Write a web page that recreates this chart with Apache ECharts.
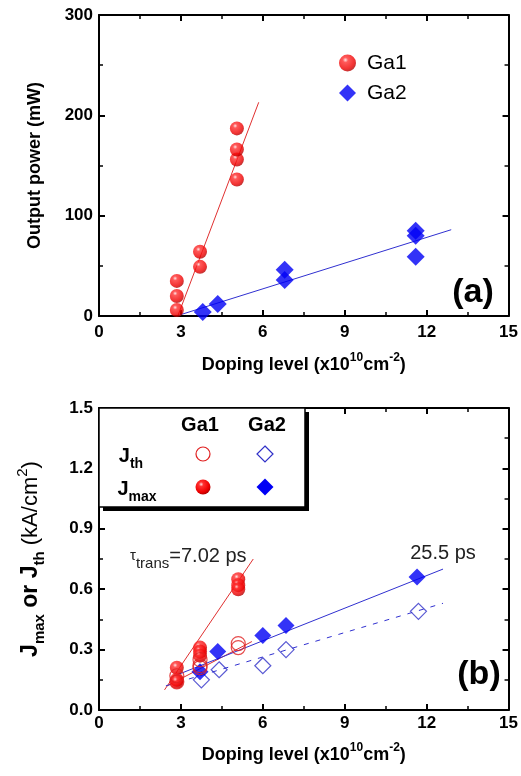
<!DOCTYPE html>
<html>
<head>
<meta charset="utf-8">
<script src="https://cdn.jsdelivr.net/npm/echarts@6/dist/echarts.min.js"></script>
<style>
  html, body { margin: 0; padding: 0; background: #fff; }
  #chart { width: 521px; height: 776px; }
</style>
</head>
<body>
<div id="chart"></div>
<script>
// (a) output power
const ga1X = [2.85, 2.85, 2.85, 3.7, 3.7, 5.05, 5.05, 5.05, 5.05]
const ga1Power = [6, 20, 35, 49, 64, 136, 156, 166, 187]
const ga2X = [3.8, 4.35, 6.8, 6.8, 11.6, 11.6, 11.6]
const ga2Power = [4, 12, 36, 46, 59, 80, 85]
const ga1FitX = [2.9, 5.85]
const ga1FitPower = [1, 213]
const ga2FitX = [2.95, 12.9]
const ga2FitPower = [1, 86]

// (b) current densities
const jmaxGa1X = [2.85, 2.85, 2.85, 3.7, 3.7, 3.7, 5.1, 5.1, 5.1]
const jmaxGa1 = [0.21, 0.15, 0.14, 0.31, 0.29, 0.27, 0.65, 0.62, 0.60]
const jthGa1X = [2.85, 2.85, 3.7, 3.7, 3.7, 5.1, 5.1]
const jthGa1 = [0.17, 0.14, 0.25, 0.22, 0.21, 0.33, 0.31]
const jmaxGa2X = [3.7, 4.35, 6.0, 6.85, 11.65]
const jmaxGa2 = [0.19, 0.29, 0.37, 0.42, 0.66]
const jthGa2X = [3.75, 4.4, 6.0, 6.85, 11.7]
const jthGa2 = [0.15, 0.20, 0.22, 0.30, 0.49]
const jmaxGa1FitX = [2.4, 5.65]
const jmaxGa1Fit = [0.10, 0.75]
const jthGa1FitX = [2.5, 5.6]
const jthGa1Fit = [0.12, 0.34]
const jmaxGa2FitX = [2.78, 12.6]
const jmaxGa2Fit = [0.17, 0.70]
const jthGa2FitX = [2.45, 12.6]
const jthGa2Fit = [0.12, 0.53]

const xTicks = [0, 3, 6, 9, 12, 15]

const FONT = 'Liberation Sans, Arial, sans-serif'
const BLUE = '#0000f5'

const pts = (xs, ys) => xs.map((x, i) => [x, ys[i]])

const sphere = {
  type: 'radial', x: 0.38, y: 0.32, r: 0.7,
  colorStops: [
    { offset: 0, color: '#ffe0e0' },
    { offset: 0.22, color: '#ff3030' },
    { offset: 0.75, color: '#ee0000' },
    { offset: 1, color: '#b00000' }
  ]
}

const tickStyle = { color: '#000', width: 2 }

function xAxisFor (grid, pos, name, gap) {
  return {
    gridIndex: grid,
    type: 'value',
    position: pos,
    min: xTicks[0],
    max: xTicks[xTicks.length - 1],
    interval: 3,
    axisLine: { onZero: false, lineStyle: tickStyle },
    axisTick: { inside: true, length: 6, lineStyle: tickStyle },
    minorTick: { show: true, splitNumber: 2, length: 4, lineStyle: { color: '#000', width: 1.5 } },
    splitLine: { show: false },
    axisLabel: {
      show: pos === 'bottom',
      color: '#000', fontFamily: FONT, fontWeight: 'bold', fontSize: 17,
      margin: grid === 0 ? 8 : 5
    },
    name: pos === 'bottom' ? name : '',
    nameLocation: 'middle',
    nameGap: gap,
    nameTextStyle: {
      fontFamily: FONT,
      rich: {
        t: { fontSize: 18, fontWeight: 'bold', color: '#000', lineHeight: 26, fontFamily: FONT },
        s: { fontSize: 12, fontWeight: 'bold', color: '#000', lineHeight: 12, verticalAlign: 'top', fontFamily: FONT }
      }
    }
  }
}

function yAxisFor (grid, pos, max, interval, name, rich, fmt, gap) {
  return {
    gridIndex: grid,
    type: 'value',
    position: pos,
    min: 0,
    max: max,
    interval: interval,
    axisLine: { onZero: false, lineStyle: tickStyle },
    axisTick: { inside: true, length: 6, lineStyle: tickStyle },
    minorTick: { show: true, splitNumber: 2, length: 4, lineStyle: { color: '#000', width: 1.5 } },
    splitLine: { show: false },
    axisLabel: {
      show: pos === 'left',
      color: '#000', fontFamily: FONT, fontWeight: 'bold', fontSize: 17, margin: 6,
      formatter: fmt
    },
    name: pos === 'left' ? name : '',
    nameLocation: 'middle',
    nameGap: gap || 55,
    nameTextStyle: {
      color: '#000', fontFamily: FONT, fontWeight: 'bold', fontSize: 18,
      rich: rich
    }
  }
}

const xName = '{t|Doping level (x10}{s|10}{t|cm}{s|-2}{t|)}'

const jRich = {
  j: { fontSize: 23, fontWeight: 'bold', color: '#000', lineHeight: 32, fontFamily: FONT },
  sb: { fontSize: 15, fontWeight: 'bold', color: '#000', lineHeight: 15, verticalAlign: 'bottom', fontFamily: FONT },
  n: { fontSize: 22, fontWeight: 'normal', color: '#000', lineHeight: 32, fontFamily: FONT },
  sp: { fontSize: 15, fontWeight: 'normal', color: '#000', lineHeight: 15, verticalAlign: 'top', fontFamily: FONT }
}

const fitLine = (name, xs, ys, xi, yi, color, type) => ({
  name: name,
  type: 'line',
  xAxisIndex: xi,
  yAxisIndex: yi,
  data: pts(xs, ys),
  showSymbol: false,
  silent: true,
  z: 1,
  lineStyle: { color: color, width: 1, type: type || 'solid' }
})

const chart = echarts.init(document.getElementById('chart'), null, { renderer: 'canvas' })

const option = {
  backgroundColor: '#fff',
  animation: false,
  grid: [
    { left: 99, top: 15, width: 410, height: 301 },
    { left: 99, top: 408, width: 410, height: 302 }
  ],
  xAxis: [
    xAxisFor(0, 'bottom', xName, 36),
    xAxisFor(0, 'top', '', 0),
    xAxisFor(1, 'bottom', xName, 32),
    xAxisFor(1, 'top', '', 0)
  ],
  yAxis: [
    yAxisFor(0, 'left', 300, 100, 'Output power (mW)', null, v => v),
    yAxisFor(0, 'right', 300, 100, '', null, v => v),
    yAxisFor(1, 'left', 1.5, 0.3, '{j|J}{sb|max}{j| or J}{sb|th}{n| (kA/cm}{sp|2}{n|)}', jRich, v => v.toFixed(1), 52),
    yAxisFor(1, 'right', 1.5, 0.3, '', null, v => v)
  ],
  legend: {
    data: ['Ga1', 'Ga2'],
    orient: 'vertical',
    left: 339,
    top: 52,
    padding: 0,
    itemWidth: 17,
    itemHeight: 17,
    itemGap: 8,
    textStyle: { fontFamily: FONT, fontSize: 21, color: '#000', padding: [0, 0, 0, 6], lineHeight: 22 }
  },
  series: [
    fitLine('fitGa1', ga1FitX, ga1FitPower, 0, 0, '#e03030'),
    fitLine('fitGa2', ga2FitX, ga2FitPower, 0, 0, '#3030d0'),
    {
      name: 'Ga1', type: 'scatter', xAxisIndex: 0, yAxisIndex: 0,
      data: pts(ga1X, ga1Power), symbol: 'circle', symbolSize: 14,
      itemStyle: { color: sphere }, z: 3
    },
    {
      name: 'Ga2', type: 'scatter', xAxisIndex: 0, yAxisIndex: 0,
      data: pts(ga2X, ga2Power), symbol: 'diamond', symbolSize: 18,
      itemStyle: { color: BLUE }, z: 3
    },
    fitLine('fitJmaxGa1', jmaxGa1FitX, jmaxGa1Fit, 2, 2, '#e03030'),
    fitLine('fitJthGa1', jthGa1FitX, jthGa1Fit, 2, 2, '#e03030'),
    fitLine('fitJmaxGa2', jmaxGa2FitX, jmaxGa2Fit, 2, 2, '#3030d0'),
    fitLine('fitJthGa2', jthGa2FitX, jthGa2Fit, 2, 2, '#3030d0', [5, 7]),
    {
      name: 'Jth Ga2', type: 'scatter', xAxisIndex: 2, yAxisIndex: 2,
      data: pts(jthGa2X, jthGa2), symbol: 'diamond', symbolSize: 16,
      itemStyle: { color: 'rgba(255,255,255,0)', borderColor: '#3030c8', borderWidth: 1.2 }, z: 3
    },
    {
      name: 'Jmax Ga2', type: 'scatter', xAxisIndex: 2, yAxisIndex: 2,
      data: pts(jmaxGa2X, jmaxGa2), symbol: 'diamond', symbolSize: 17,
      itemStyle: { color: BLUE }, z: 3
    },
    {
      name: 'Jmax Ga1', type: 'scatter', xAxisIndex: 2, yAxisIndex: 2,
      data: pts(jmaxGa1X, jmaxGa1), symbol: 'circle', symbolSize: 14,
      itemStyle: { color: sphere }, z: 3
    },
    {
      name: 'Jth Ga1', type: 'scatter', xAxisIndex: 2, yAxisIndex: 2,
      data: pts(jthGa1X, jthGa1), symbol: 'circle', symbolSize: 14,
      itemStyle: { color: 'rgba(255,255,255,0)', borderColor: '#e02020', borderWidth: 1.2 }, z: 4
    }
  ],
  graphic: [
    // panel labels
    { type: 'text', x: 473, y: 293, z: 10, style: { text: '(a)', align: 'center', verticalAlign: 'middle', fontFamily: FONT, fontWeight: 'bold', fontSize: 34, fill: '#000' } },
    { type: 'text', x: 479, y: 675, z: 10, style: { text: '(b)', align: 'center', verticalAlign: 'middle', fontFamily: FONT, fontWeight: 'bold', fontSize: 34, fill: '#000' } },
    // annotations
    {
      type: 'text', x: 130, y: 556, z: 10,
      style: {
        text: '{tau|τ}{sb|trans}{n|=7.02 ps}', align: 'left', verticalAlign: 'middle',
        rich: {
          tau: { fontSize: 15, fontFamily: FONT, fill: '#222', lineHeight: 30 },
          sb: { fontSize: 15, fontFamily: FONT, fill: '#222', lineHeight: 15, verticalAlign: 'bottom' },
          n: { fontSize: 20, fontFamily: FONT, fill: '#222', lineHeight: 30 }
        }
      }
    },
    { type: 'text', x: 443, y: 553, z: 10, style: { text: '25.5 ps', align: 'center', verticalAlign: 'middle', fontFamily: FONT, fontSize: 20, fill: '#222' } },
    // legend box of (b)
    { type: 'rect', z: 8, shape: { x: 103, y: 412, width: 206, height: 99 }, style: { fill: '#000' } },
    { type: 'rect', z: 9, shape: { x: 99, y: 408, width: 206, height: 99 }, style: { fill: '#fff', stroke: '#000', lineWidth: 1.5 } },
    { type: 'text', x: 200, y: 425, z: 10, style: { text: 'Ga1', align: 'center', verticalAlign: 'middle', fontFamily: FONT, fontWeight: 'bold', fontSize: 20, fill: '#000' } },
    { type: 'text', x: 267, y: 425, z: 10, style: { text: 'Ga2', align: 'center', verticalAlign: 'middle', fontFamily: FONT, fontWeight: 'bold', fontSize: 20, fill: '#000' } },
    {
      type: 'text', x: 131, y: 456, z: 10,
      style: {
        text: '{j|J}{sb|th}', align: 'center', verticalAlign: 'middle',
        rich: {
          j: { fontSize: 20, fontWeight: 'bold', fontFamily: FONT, fill: '#000', lineHeight: 30 },
          sb: { fontSize: 14, fontWeight: 'bold', fontFamily: FONT, fill: '#000', lineHeight: 14, verticalAlign: 'bottom' }
        }
      }
    },
    {
      type: 'text', x: 137, y: 489, z: 10,
      style: {
        text: '{j|J}{sb|max}', align: 'center', verticalAlign: 'middle',
        rich: {
          j: { fontSize: 20, fontWeight: 'bold', fontFamily: FONT, fill: '#000', lineHeight: 30 },
          sb: { fontSize: 14, fontWeight: 'bold', fontFamily: FONT, fill: '#000', lineHeight: 14, verticalAlign: 'bottom' }
        }
      }
    },
    { type: 'circle', z: 10, shape: { cx: 203, cy: 454, r: 7 }, style: { fill: 'none', stroke: '#e02020', lineWidth: 1.2 } },
    { type: 'polygon', z: 10, shape: { points: [[265, 446], [273, 454], [265, 462], [257, 454]] }, style: { fill: 'none', stroke: '#3030c8', lineWidth: 1.2 } },
    { type: 'circle', z: 10, shape: { cx: 203, cy: 487, r: 7.5 }, style: { fill: sphere } },
    { type: 'polygon', z: 10, shape: { points: [[265, 478.5], [273.5, 487], [265, 495.5], [256.5, 487]] }, style: { fill: BLUE } }
  ]
}

chart.setOption(option)
</script>
</body>
</html>
